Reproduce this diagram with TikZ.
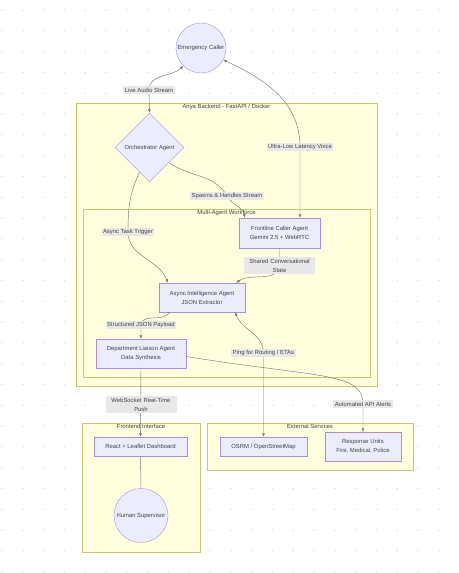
\documentclass[tikz,border=0pt]{standalone}
\usepackage{fontspec}
\setmainfont{Liberation Sans}
\usetikzlibrary{shapes.geometric,arrows.meta,calc}

\definecolor{nodefill}{HTML}{ECECFF}
\definecolor{nodeline}{HTML}{A88DE0}
\definecolor{clusterfill}{HTML}{FFFFDE}
\definecolor{clusterline}{HTML}{C8C870}
\definecolor{labelfill}{HTML}{E8E8E8}
\definecolor{ink}{HTML}{444444}
\definecolor{wire}{HTML}{777777}
\definecolor{dotc}{HTML}{DDDDDD}

\tikzset{
  agent/.style={draw=nodeline, fill=nodefill, line width=0.4pt, text=ink,
    font=\fontsize{5.9}{9}\selectfont, align=center, inner sep=0pt},
  person/.style={agent, circle},
  router/.style={agent, diamond, aspect=1},
  cluster/.style={draw=clusterline, fill=clusterfill, line width=0.5pt, inner sep=0pt},
  clabel/.style={text=ink, font=\fontsize{5.9}{7}\selectfont, anchor=north, inner sep=1.5pt},
  elabel/.style={fill=labelfill, text=ink, font=\fontsize{5.9}{9}\selectfont,
    align=center, inner sep=1.5pt},
  flow/.style={draw=wire, line width=0.45pt, -{Latex[length=3.5pt,width=3pt]}},
  twoway/.style={flow, {Latex[length=3.5pt,width=3pt]}-{Latex[length=3.5pt,width=3pt]}},
  plain/.style={draw=wire, line width=0.45pt}
}

\begin{document}
\begin{tikzpicture}[x=1pt,y=-1pt]
 \useasboundingbox[fill=white] (0,0) rectangle (458,573);
 % dotted background
 \foreach \i in {0,...,21}
   \foreach \j in {0,...,27}
     \fill[dotc] (2+20.8*\i,10+20.8*\j) circle (0.8);

 % clusters
 \node[cluster, minimum width=301, minimum height=283] (backend) at (226.5,244.5) {};
 \node[clabel] at (backend.north) {Anya Backend - FastAPI / Docker};
 \node[cluster, minimum width=287, minimum height=168] (workforce) at (226.5,293) {};
 \node[clabel] at (workforce.north) {Multi-Agent Workforce};
 \node[cluster, minimum width=118, minimum height=129] (frontend) at (141,487.5) {};
 \node[clabel] at (frontend.north) {Frontend Interface};
 \node[cluster, minimum width=206, minimum height=47] (external) at (310,446.5) {};
 \node[clabel] at (external.north) {External Services};

 % nodes
 \node[person, minimum size=50] (caller) at (201,48) {Emergency Caller};
 \node[router, minimum size=69] (orch) at (149.5,147.5) {Orchestrator Agent};
 \node[agent, minimum width=81, minimum height=30] (front) at (279.5,233)
   {Frontline Caller Agent\\Gemini 2.5 + WebRTC};
 \node[agent, minimum width=86, minimum height=29] (async) at (202,297.5)
   {Async Intelligence Agent\\JSON Extractor};
 \node[agent, minimum width=90, minimum height=29] (dept) at (141,353.5)
   {Department Liaison Agent\\Data Synthesis};
 \node[agent, minimum width=93, minimum height=19] (react) at (140.5,446.5)
   {React + Leaflet Dashboard};
 \node[person, minimum size=54] (sup) at (141,515.5) {Human Supervisor};
 \node[agent, minimum width=87, minimum height=19] (osrm) at (263.5,446.5)
   {OSRM / OpenStreetMap};
 \node[agent, minimum width=76, minimum height=29] (resp) at (363,446.5)
   {Response Units\\Fire, Medical, Police};

 % label anchors
 \coordinate (live) at (149,90);
 \coordinate (lat) at (300,147);
 \coordinate (spawn) at (227,196);
 \coordinate (trig) at (128,232);
 \coordinate (state) at (279.5,265.5);
 \coordinate (json) at (141,325);
 \coordinate (ping) at (263.5,353);
 \coordinate (api) at (363,404);
 \coordinate (push) at (141,404.5);

 % connectors
 \draw[twoway] (caller.225) to[out=225,in=90] (live) -- (orch.north);
 \draw[twoway] (caller.-28) to[out=-25,in=90] (lat) -- (front.north -| lat);
 \draw[flow] (orch.-38) to[out=-35,in=120] (spawn) to[out=-60,in=100] ($(front.north west)+(6,0)$);
 \draw[flow] (orch.-112) to[out=-115,in=90] (trig) to[out=-90,in=110] ($(async.north west)+(9,0)$);
 \draw[flow] (front.south) -- (state) to[out=-100,in=35] ($(async.north east)+(-9,0)$);
 \draw[flow] ($(async.south west)+(11,0)$) to[out=-120,in=90] (json) -- (dept.north);
 \draw[twoway] ($(async.south east)+(-10,0)$) to[out=-70,in=90] (ping) -- (osrm.north);
 \draw[flow] ($(dept.east)+(0,3)$) .. controls (320,378) and (363,372) .. (api) -- (resp.north);
 \draw[flow] (dept.south) -- (react.north);
 \draw[plain] (react.south) -- (sup.north);

 % edge labels
 \node[elabel] at (live) {Live Audio Stream};
 \node[elabel] at (lat) {Ultra-Low Latency Voice};
 \node[elabel] at (spawn) {Spawns \& Handles Stream};
 \node[elabel] at (trig) {Async Task Trigger};
 \node[elabel, text width=68pt] at (state) {Shared Conversational\\State};
 \node[elabel] at (json) {Structured JSON Payload};
 \node[elabel] at (ping) {Ping for Routing / ETAs};
 \node[elabel] at (api) {Automated API Alerts};
 \node[elabel, text width=68pt] at (push) {WebSocket Real-Time\\Push};
\end{tikzpicture}
\end{document}
